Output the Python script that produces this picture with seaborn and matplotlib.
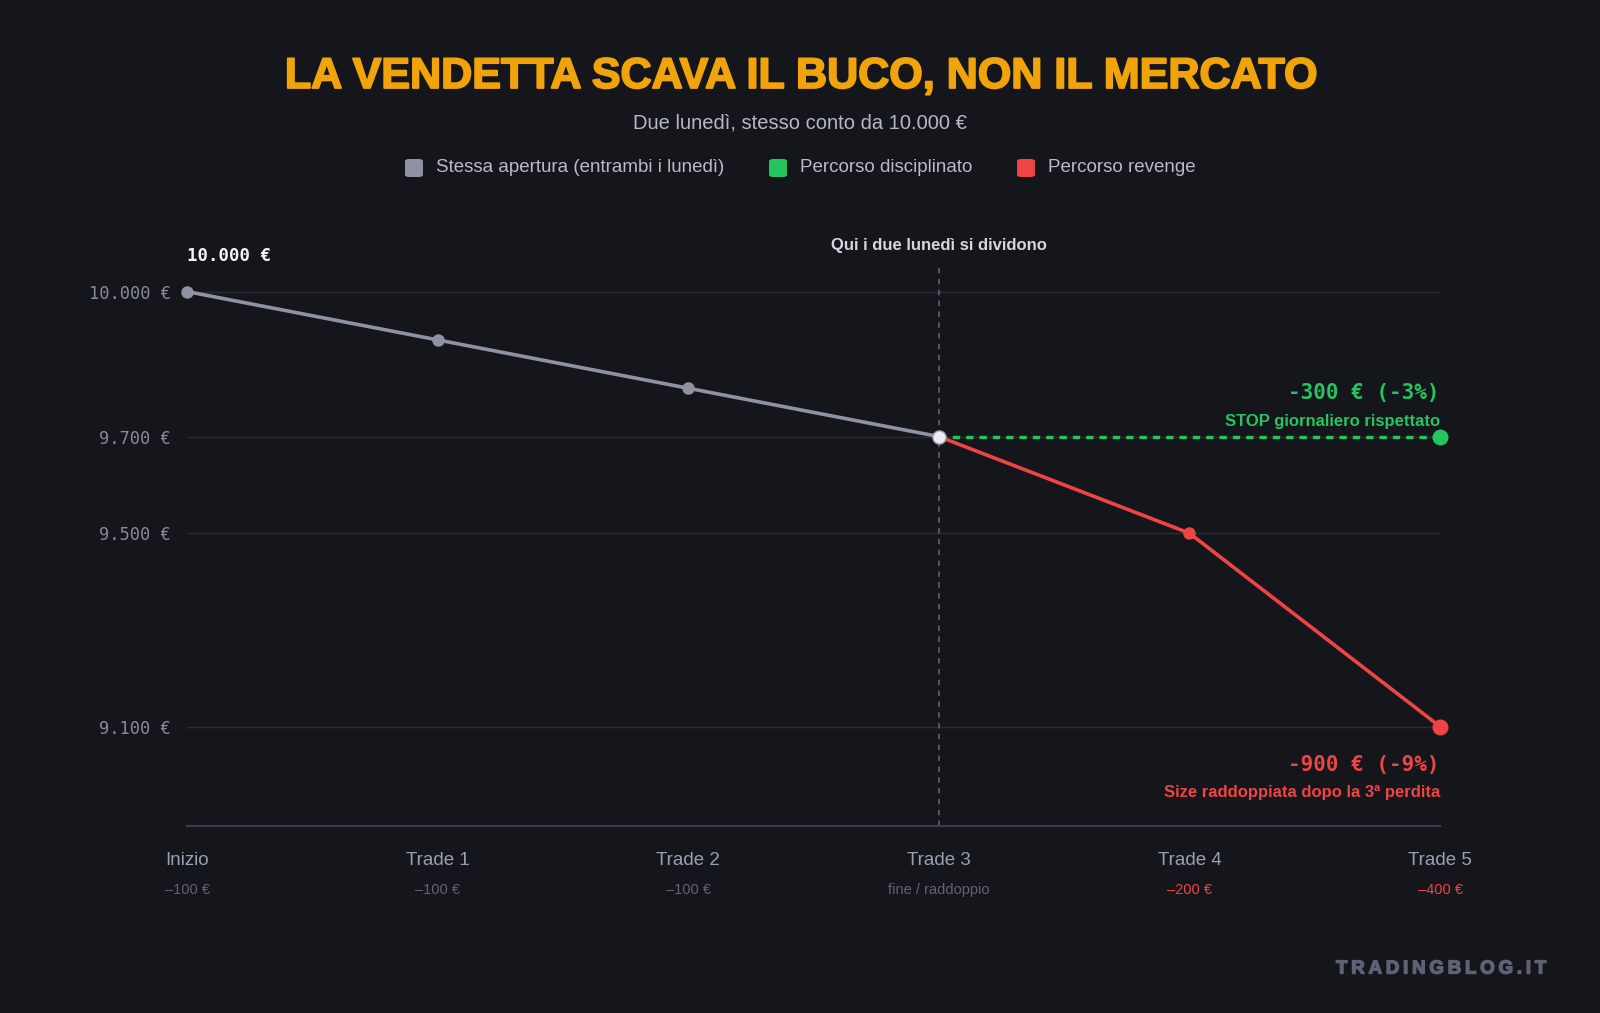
import pandas as pd
import matplotlib.pyplot as plt
import matplotlib.patheffects as pe
import seaborn as sns
from matplotlib.patches import FancyBboxPatch

# Data
steps = ["Inizio", "Trade 1", "Trade 2", "Trade 3", "Trade 4", "Trade 5"]
step_notes = ["–100 €", "–100 €", "–100 €", "fine / raddoppio", "–200 €", "–400 €"]
shared_equity = [10000, 9900, 9800, 9700]
disciplined_equity = [9700, 9700, 9700]
revenge_equity = [9700, 9500, 9100]
y_ticks = [10000, 9700, 9500, 9100]
y_labels = ["10.000 €", "9.700 €", "9.500 €", "9.100 €"]

BG = "#15161c"
GRAY = "#8e92a3"
GREEN = "#22c55e"
RED = "#ef4444"

shared_df = pd.DataFrame({"x": range(0, 4), "equity": shared_equity})
disc_df = pd.DataFrame({"x": range(3, 6), "equity": disciplined_equity})
rev_df = pd.DataFrame({"x": range(3, 6), "equity": revenge_equity})

sns.set_theme(style="dark")
plt.rcParams["font.family"] = ["Liberation Sans", "DejaVu Sans"]

fig = plt.figure(figsize=(16, 10.13), dpi=100, facecolor=BG)
ax = fig.add_axes([0.117, 0.185, 0.783, 0.551])
ax.set_facecolor(BG)

# grid
for v in y_ticks:
    ax.axhline(v, color="#2a2c35", linewidth=1, zorder=0)
ax.axvline(3, color="#5a5d68", linewidth=1.3, linestyle=(0, (3, 3)), zorder=1)

# lines
sns.lineplot(data=shared_df, x="x", y="equity", ax=ax, color=GRAY, linewidth=2.6,
             marker="o", markersize=9, markeredgewidth=0, zorder=3, clip_on=False)
sns.lineplot(data=disc_df, x="x", y="equity", ax=ax, color=GREEN, linewidth=2.4,
             linestyle=(0, (2.2, 1.8)), zorder=3, clip_on=False)
sns.lineplot(data=rev_df, x="x", y="equity", ax=ax, color=RED, linewidth=2.6,
             marker="o", markersize=9, markeredgewidth=0, zorder=4, clip_on=False)
ax.plot(disc_df["x"].iloc[-1], disc_df["equity"].iloc[-1], "o", color=GREEN, markersize=11.5,
        markeredgewidth=0, zorder=5, clip_on=False)
ax.plot(rev_df["x"].iloc[-1], rev_df["equity"].iloc[-1], "o", color=RED, markersize=11.5,
        markeredgewidth=0, zorder=5, clip_on=False)
ax.plot(shared_df["x"].iloc[-1], shared_df["equity"].iloc[-1], "o", color="#eceef2",
        markersize=9.5, markeredgecolor="#9a9eac", markeredgewidth=1, zorder=6, clip_on=False)

ax.set_xlim(0, 5)
ax.set_ylim(8895, 10050)
ax.set_yticks(y_ticks)
ax.set_yticklabels(y_labels, family="DejaVu Sans Mono", fontsize=12.3, color="#868b9c")
ax.set_xticks(range(len(steps)))
ax.set_xticklabels(steps, fontsize=13.5, color="#98a0b4")
ax.tick_params(axis="x", length=0, pad=19)
ax.tick_params(axis="y", length=0, pad=12)
ax.set_xlabel("")
ax.set_ylabel("")
ax.grid(False)
for s in ["top", "right", "left"]:
    ax.spines[s].set_visible(False)
ax.spines["bottom"].set_color("#3a3d48")
ax.spines["bottom"].set_linewidth(1.5)

# notes under ticks
for i, note in enumerate(step_notes):
    c = RED if note in ("–200 €", "–400 €") else "#5f6475"
    ax.annotate(note, xy=(i, 0), xycoords=("data", "axes fraction"), xytext=(0, -64),
                textcoords="offset pixels", ha="center", va="center", fontsize=10.5, color=c)

# annotations
ax.annotate("10.000 €", xy=(0, 10000), xytext=(0, 36), textcoords="offset pixels",
            ha="left", va="center", family="DejaVu Sans Mono", fontweight="bold",
            fontsize=12.5, color="#f3f4f6")
ax.annotate("Qui i due lunedì si dividono", xy=(3, 1), xycoords=("data", "axes fraction"),
            xytext=(0, 22), textcoords="offset pixels", ha="center", va="center",
            fontweight="bold", fontsize=12, color="#d4d7de")
ax.annotate("-300 € (-3%)", xy=(5, 9700), xytext=(0, 44), textcoords="offset pixels",
            ha="right", va="center", family="DejaVu Sans Mono", fontweight="bold",
            fontsize=15, color=GREEN)
ax.annotate("STOP giornaliero rispettato", xy=(5, 9700), xytext=(0, 15), textcoords="offset pixels",
            ha="right", va="center", fontweight="bold", fontsize=12, color=GREEN)
ax.annotate("-900 € (-9%)", xy=(5, 9100), xytext=(0, -38), textcoords="offset pixels",
            ha="right", va="center", family="DejaVu Sans Mono", fontweight="bold",
            fontsize=15, color=RED)
ax.annotate("Size raddoppiata dopo la 3ª perdita", xy=(5, 9100), xytext=(0, -66),
            textcoords="offset pixels", ha="right", va="center", fontweight="bold",
            fontsize=12, color=RED)

# title / subtitle
fig.text(0.5, 1 - 77 / 1013, "LA VENDETTA SCAVA IL BUCO, NON IL MERCATO", ha="center", va="center",
         fontsize=31, fontweight="bold", color="#f0a30a",
         path_effects=[pe.Stroke(linewidth=1.3, foreground="#f0a30a"), pe.Normal()])
fig.text(0.5, 1 - 123 / 1013, "Due lunedì, stesso conto da 10.000 €", ha="center", va="center",
         fontsize=14.5, color="#b4b9c6")

# legend
legend_items = [("Stessa apertura (entrambi i lunedì)", GRAY, 414),
                ("Percorso disciplinato", GREEN, 778),
                ("Percorso revenge", RED, 1026)]
for label, col, px in legend_items:
    sq = FancyBboxPatch(((px - 9) / 1600, 1 - 177 / 1013), 18 / 1600, 18 / 1013,
                        boxstyle="round,pad=0,rounding_size=0.0025", transform=fig.transFigure,
                        facecolor=col, edgecolor="none")
    fig.patches.append(sq)
    fig.text((px + 22) / 1600, 1 - 168 / 1013, label, ha="left", va="center",
             fontsize=13.5, color="#b8bcc8")

# watermark
fig.text(1546 / 1600, 1 - 969 / 1013, "\u2009".join("TRADINGBLOG.IT"), ha="right", va="center",
         fontsize=13.5, fontweight="bold", color="#5d6275",
         family=["Liberation Sans", "DejaVu Sans"],
         path_effects=[pe.Stroke(linewidth=1.0, foreground="#5d6275"), pe.Normal()])

fig.savefig("out.png", dpi=100, facecolor=BG)
